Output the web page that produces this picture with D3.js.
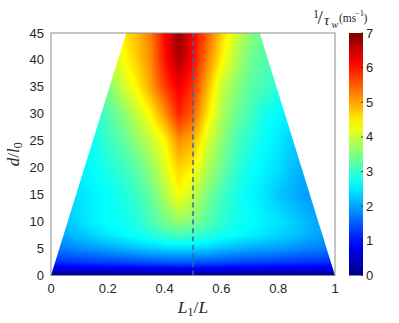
<!DOCTYPE html>
<html>
<head>
<meta charset="utf-8">
<script src="https://cdn.jsdelivr.net/npm/d3@7"></script>
<style>
  body { margin: 0; background: #fff; }
  text { font-family: "Liberation Sans", Arial, sans-serif; fill: #262626; }
  .tex { font-family: "Liberation Serif", "DejaVu Serif", serif; }
</style>
</head>
<body>
<svg width="399" height="323"></svg>
<script>
// grid: columns are L1/L, rows are d/l0
var xGrid = [0, 0.05, 0.1, 0.15, 0.2, 0.25, 0.3, 0.35, 0.4, 0.45, 0.5,
             0.55, 0.6, 0.65, 0.7, 0.75, 0.8, 0.85, 0.9, 0.95, 1];
var dGrid = [0, 1, 2.5, 5, 7.5, 10, 15, 20, 25, 30, 35, 40, 45];
var rate = [
  [0.05,0.05,0.05,0.05,0.05,0.05,0.05,0.05,0.05,0.05,0.05,0.05,0.05,0.05,0.05,0.05,0.05,0.05,0.05,0.05,0.05],
  [0.6,0.6,0.61,0.62,0.63,0.64,0.65,0.66,0.67,0.68,0.68,0.67,0.66,0.65,0.64,0.63,0.62,0.61,0.6,0.6,0.6],
  [1.2,1.22,1.26,1.3,1.34,1.38,1.42,1.46,1.49,1.5,1.49,1.46,1.42,1.38,1.35,1.32,1.29,1.26,1.23,1.21,1.2],
  [1.7,1.75,1.85,1.92,2.0,2.1,2.2,2.28,2.35,2.4,2.35,2.3,2.2,2.12,2.05,2.0,1.95,1.88,1.8,1.75,1.7],
  [1.95,2.05,2.2,2.35,2.5,2.6,2.7,2.85,3.0,3.1,3.05,2.9,2.75,2.65,2.55,2.45,2.35,2.25,2.1,2.0,1.95],
  [2.1,2.2,2.4,2.55,2.65,2.7,2.85,3.1,3.4,3.65,3.5,3.2,2.95,2.75,2.65,2.55,2.45,2.3,2.15,2.0,1.95],
  [2.3,2.35,2.45,2.55,2.65,2.8,3.0,3.3,3.8,4.35,4.0,3.5,3.1,2.8,2.6,2.45,2.25,2.1,1.95,1.9,1.9],
  [2.5,2.5,2.5,2.65,2.8,3.0,3.25,3.6,4.15,4.7,4.45,3.85,3.4,3.0,2.7,2.55,2.4,2.2,2.05,2.05,2.05],
  [2.6,2.6,2.6,2.7,3.0,3.25,3.6,3.95,4.4,5.15,4.9,4.15,3.6,3.15,2.9,2.65,2.5,2.3,2.25,2.25,2.25],
  [2.9,2.9,2.9,2.9,3.15,3.5,3.95,4.4,5.1,5.9,5.5,4.55,3.85,3.4,3.1,2.75,2.6,2.5,2.5,2.5,2.5],
  [3.45,3.45,3.45,3.45,3.45,4.0,4.4,5.0,5.7,6.2,5.8,4.9,4.0,3.6,3.25,3.1,2.9,2.9,2.9,2.9,2.9],
  [4.1,4.1,4.1,4.1,4.1,4.25,4.7,5.15,6.0,6.7,6.1,5.25,4.45,3.85,3.4,3.2,3.1,3.1,3.1,3.1,3.1],
  [4.5,4.5,4.5,4.5,4.5,4.5,4.8,5.25,6.1,6.9,6.2,5.5,4.7,4.1,3.6,3.25,3.25,3.25,3.25,3.25,3.25]
];

// trapezoid outline of the valid region (L1/L, d/l0)
var regionX = [0, 1, 0.735, 0.265];
var regionD = [0, 0, 45, 45];

var xTicks = [0, 0.2, 0.4, 0.6, 0.8, 1];
var yTicks = [0, 5, 10, 15, 20, 25, 30, 35, 40, 45];
var cTicks = [0, 1, 2, 3, 4, 5, 6, 7];
var midLine = 0.5;

var svg = d3.select("svg");
var pLeft = 51, pRight = 335, pTop = 33, pBottom = 275.5;

var x = d3.scaleLinear().domain([0, 1]).range([pLeft, pRight]);
var y = d3.scaleLinear().domain([0, 45]).range([pBottom, pTop]);

// MATLAB jet
var jet = d3.scaleLinear()
    .domain([0, 0.875, 2.625, 4.375, 6.125, 7])
    .range(["#000080", "#0000ff", "#00ffff", "#ffff00", "#ff0000", "#800000"])
    .interpolate(d3.interpolateRgb)
    .clamp(true);

function lookup(xv, dv) {
  var i = Math.min(xGrid.length - 2, Math.max(0, d3.bisectRight(xGrid, xv) - 1));
  var j = Math.min(dGrid.length - 2, Math.max(0, d3.bisectRight(dGrid, dv) - 1));
  var tx = (xv - xGrid[i]) / (xGrid[i + 1] - xGrid[i]);
  var ty = (dv - dGrid[j]) / (dGrid[j + 1] - dGrid[j]);
  tx = Math.max(0, Math.min(1, tx)); ty = Math.max(0, Math.min(1, ty));
  var a = rate[j][i] * (1 - tx) + rate[j][i + 1] * tx;
  var b = rate[j + 1][i] * (1 - tx) + rate[j + 1][i + 1] * tx;
  return a * (1 - ty) + b * ty;
}

// paint the field into a canvas then drop it into the svg
var W = Math.round(pRight - pLeft), H = Math.round(pBottom - pTop);
var canvas = document.createElement("canvas");
canvas.width = W; canvas.height = H;
var ctx = canvas.getContext("2d");
var img = ctx.createImageData(W, H);
for (var r = 0; r < H; r++) {
  for (var c = 0; c < W; c++) {
    var v = lookup(x.invert(pLeft + c + 0.5), y.invert(pTop + r + 0.5));
    var col = d3.rgb(jet(v));
    var k = (r * W + c) * 4;
    img.data[k] = col.r; img.data[k + 1] = col.g; img.data[k + 2] = col.b; img.data[k + 3] = 255;
  }
}
ctx.putImageData(img, 0, 0);

svg.append("clipPath").attr("id", "region")
  .append("path")
  .attr("d", d3.line()(regionX.map(function(d, i) { return [x(d), y(regionD[i])]; })) + "Z");

svg.append("image")
  .attr("x", pLeft).attr("y", pTop)
  .attr("width", W).attr("height", H)
  .attr("preserveAspectRatio", "none")
  .attr("href", canvas.toDataURL())
  .attr("clip-path", "url(#region)");

// dashed line at L1/L = 0.5
svg.append("line")
  .attr("x1", x(midLine)).attr("x2", x(midLine))
  .attr("y1", y(0)).attr("y2", y(45))
  .attr("stroke", "#2f6ca8")
  .attr("stroke-width", 1.5)
  .attr("stroke-dasharray", "5,3.5");

// frame
svg.append("rect")
  .attr("x", pLeft).attr("y", pTop)
  .attr("width", pRight - pLeft).attr("height", pBottom - pTop)
  .attr("fill", "none").attr("stroke", "#8c8c8c").attr("stroke-width", 1);

svg.append("g").selectAll("text")
  .data(xTicks).enter().append("text")
  .attr("x", function(d) { return x(d); })
  .attr("y", 293)
  .attr("text-anchor", "middle")
  .attr("font-size", 13)
  .text(function(d) { return d; });

svg.append("g").selectAll("text")
  .data(yTicks).enter().append("text")
  .attr("x", 44)
  .attr("y", function(d) { return y(d) + 4.5; })
  .attr("text-anchor", "end")
  .attr("font-size", 13)
  .text(function(d) { return d; });

// axis labels
var xl = svg.append("text").attr("class", "tex")
  .attr("x", x(0.5)).attr("y", 313).attr("text-anchor", "middle").attr("font-size", 17.5);
xl.append("tspan").attr("font-style", "italic").text("L");
xl.append("tspan").attr("font-size", 12).attr("dy", 3).text("1");
xl.append("tspan").attr("dy", -3).text("/");
xl.append("tspan").attr("font-style", "italic").text("L");

var yl = svg.append("text").attr("class", "tex")
  .attr("transform", "translate(19," + ((pTop + pBottom) / 2) + ") rotate(-90)")
  .attr("text-anchor", "middle").attr("font-size", 17);
yl.append("tspan").attr("font-style", "italic").text("d");
yl.append("tspan").text("/");
yl.append("tspan").attr("font-style", "italic").text("l");
yl.append("tspan").attr("font-size", 12).attr("dy", 3).text("0");

// colorbar
var cbLeft = 349, cbRight = 363;
var cScale = d3.scaleLinear().domain([0, 7]).range([pBottom, pTop]);
var grad = svg.append("defs").append("linearGradient")
  .attr("id", "jet").attr("x1", 0).attr("y1", 1).attr("x2", 0).attr("y2", 0);
grad.selectAll("stop")
  .data(d3.range(0, 7.01, 0.25)).enter().append("stop")
  .attr("offset", function(d) { return d / 7; })
  .attr("stop-color", function(d) { return jet(d); });

svg.append("rect")
  .attr("x", cbLeft).attr("y", pTop)
  .attr("width", cbRight - cbLeft).attr("height", pBottom - pTop)
  .attr("fill", "url(#jet)");

svg.append("g").selectAll("line")
  .data(cTicks).enter().append("line")
  .attr("x1", cbRight - 2).attr("x2", cbRight)
  .attr("y1", function(d) { return cScale(d); }).attr("y2", function(d) { return cScale(d); })
  .attr("stroke", "#262626").attr("stroke-width", 0.8);

svg.append("g").selectAll("text")
  .data(cTicks).enter().append("text")
  .attr("x", 366)
  .attr("y", function(d) { return cScale(d) + 4.5; })
  .attr("font-size", 13)
  .text(function(d) { return d; });

// colorbar title: 1/tau_w (ms^-1)
var t = svg.append("g");
t.append("text").attr("class", "tex").attr("x", 313).attr("y", 18).attr("font-size", 12).text("1");
t.append("text").attr("class", "tex").attr("x", 317.5).attr("y", 23.5).attr("font-size", 19).text("/");
t.append("text").attr("class", "tex").attr("x", 324).attr("y", 25).attr("font-size", 15).attr("font-style", "italic").text("τ");
t.append("text").attr("class", "tex").attr("x", 331.5).attr("y", 27.5).attr("font-size", 10).attr("font-style", "italic").text("w");
t.append("text").attr("class", "tex").attr("x", 339).attr("y", 22).attr("font-size", 11.5).text("(ms");
t.append("text").attr("class", "tex").attr("x", 355).attr("y", 15.5).attr("font-size", 8.5).text("−1");
t.append("text").attr("class", "tex").attr("x", 363.5).attr("y", 22).attr("font-size", 11.5).text(")");
</script>
</body>
</html>
